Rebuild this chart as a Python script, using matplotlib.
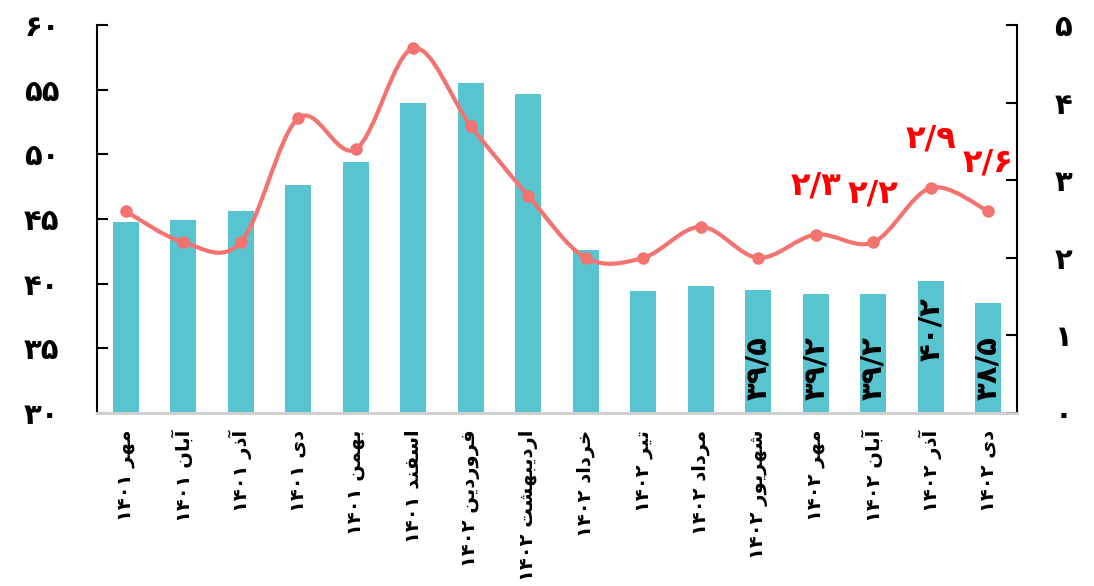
import matplotlib
matplotlib.use("Agg")
import matplotlib.pyplot as plt
from matplotlib.path import Path
from matplotlib.patches import PathPatch

plt.rcParams['font.family'] = ['DejaVu Sans']
plt.rcParams['font.weight'] = 'bold'

months = ["مهر", "آبان", "آذر", "دی", "بهمن", "اسفند", "فروردین", "اردیبهشت",
          "خرداد", "تیر", "مرداد", "شهریور", "مهر", "آبان", "آذر", "دی"]
years = ["۱۴۰۱"] * 6 + ["۱۴۰۲"] * 10
bar_vals = [44.8, 44.9, 45.6, 47.6, 49.4, 54.0, 55.5, 54.7,
            42.6, 39.4, 39.8, 39.5, 39.2, 39.2, 40.2, 38.5]
line_vals = [2.6, 2.2, 2.2, 3.8, 3.4, 4.7, 3.7, 2.8,
             2.0, 2.0, 2.4, 2.0, 2.3, 2.2, 2.9, 2.6]
bar_label_idx = [11, 12, 13, 14, 15]
line_label_idx = [12, 13, 14, 15]

FA_DIGITS = "۰۱۲۳۴۵۶۷۸۹"

# presentation forms: isolated, final, initial, medial (None = no left join)
FORMS = {
    'ا': (0xFE8D, 0xFE8E, None, None), 'آ': (0xFE81, 0xFE82, None, None),
    'ب': (0xFE8F, 0xFE90, 0xFE91, 0xFE92), 'ت': (0xFE95, 0xFE96, 0xFE97, 0xFE98),
    'خ': (0xFEA5, 0xFEA6, 0xFEA7, 0xFEA8), 'د': (0xFEA9, 0xFEAA, None, None),
    'ذ': (0xFEAB, 0xFEAC, None, None), 'ر': (0xFEAD, 0xFEAE, None, None),
    'س': (0xFEB1, 0xFEB2, 0xFEB3, 0xFEB4), 'ش': (0xFEB5, 0xFEB6, 0xFEB7, 0xFEB8),
    'ف': (0xFED1, 0xFED2, 0xFED3, 0xFED4), 'م': (0xFEE1, 0xFEE2, 0xFEE3, 0xFEE4),
    'ن': (0xFEE5, 0xFEE6, 0xFEE7, 0xFEE8), 'ه': (0xFEE9, 0xFEEA, 0xFEEB, 0xFEEC),
    'و': (0xFEED, 0xFEEE, None, None), 'ی': (0xFBFC, 0xFBFD, 0xFBFE, 0xFBFF),
}


def shape(word):
    out = []
    for i, c in enumerate(word):
        prev = word[i - 1] if i > 0 else None
        nxt = word[i + 1] if i + 1 < len(word) else None
        j_prev = prev in FORMS and FORMS[prev][2] is not None
        j_next = FORMS[c][2] is not None and nxt in FORMS
        f = FORMS[c]
        if j_prev and j_next:
            out.append(chr(f[3]))
        elif j_prev:
            out.append(chr(f[1]))
        elif j_next:
            out.append(chr(f[2]))
        else:
            out.append(chr(f[0]))
    return "".join(reversed(out))


def fa_num(v, dec=True):
    s = f"{v:.1f}" if dec else f"{int(v)}"
    s = s.replace(".", "/")
    return "".join(FA_DIGITS[int(ch)] if ch.isdigit() else ch for ch in s)


cat_labels = [y + " " + shape(m) for m, y in zip(months, years)]

bar_color = "#57C4CF"
line_color = "#F2736F"

fig = plt.figure(figsize=(10.94, 5.86), dpi=100)
ax = fig.add_axes([97 / 1094, 1 - 413 / 586, 920 / 1094, 388 / 586])
ax2 = ax.twinx()

x = list(range(len(bar_vals)))
ax.bar(x, [v - 30 for v in bar_vals], bottom=30, width=0.45, color=bar_color, zorder=2)
ax.set_xlim(-0.5, len(x) - 0.5)
ax.set_ylim(30, 60)
ax.set_yticks(range(30, 61, 5))
ax.set_yticklabels([fa_num(t, False) for t in range(30, 61, 5)], fontsize=21, fontweight='bold')
ax.set_xticks(x)
ax.set_xticklabels(cat_labels, rotation=90, fontsize=14, fontweight='bold', va='top')
ax.tick_params(axis='x', length=0, pad=12)
ax.tick_params(axis='y', direction='in', length=8, width=1.5, pad=27)

for i in bar_label_idx:
    y0 = 34.0 if bar_vals[i] > 40 else 31.0
    ax.text(x[i], y0, fa_num(bar_vals[i]), rotation=90, ha='center', va='bottom',
            fontsize=21, fontweight='bold', color='black', zorder=3)

# smoothed line through the monthly points (cubic Bezier segments)
verts = [(x[0], line_vals[0])]
codes = [Path.MOVETO]
n = len(line_vals)
for i in range(n - 1):
    p0 = (x[max(i - 1, 0)], line_vals[max(i - 1, 0)])
    p1 = (x[i], line_vals[i])
    p2 = (x[i + 1], line_vals[i + 1])
    p3 = (x[min(i + 2, n - 1)], line_vals[min(i + 2, n - 1)])
    c1 = (p1[0] + (p2[0] - p0[0]) / 6, p1[1] + (p2[1] - p0[1]) / 6)
    c2 = (p2[0] - (p3[0] - p1[0]) / 6, p2[1] - (p3[1] - p1[1]) / 6)
    verts += [c1, c2, p2]
    codes += [Path.CURVE4] * 3
ax2.add_patch(PathPatch(Path(verts, codes), fill=False, edgecolor=line_color,
                        linewidth=3, zorder=3))
ax2.plot(x, line_vals, 'o', color=line_color, markersize=8, zorder=4)

for i in line_label_idx:
    ax2.annotate(fa_num(line_vals[i]), (x[i], line_vals[i]), xytext=(0, 35),
                 textcoords='offset points', ha='center', va='center',
                 fontsize=23, fontweight='bold', color='#FF0000')

ax2.set_ylim(0, 5)
ax2.set_yticks(range(0, 6))
ax2.set_yticklabels([fa_num(t, False) for t in range(0, 6)], fontsize=21, fontweight='bold')
ax2.tick_params(axis='y', direction='in', length=8, width=1.5, pad=27)

for a in (ax, ax2):
    a.spines['top'].set_visible(False)
    a.spines['left'].set_linewidth(1.5)
    a.spines['right'].set_linewidth(1.5)
    a.spines['bottom'].set_color('#D0D0D0')
    a.spines['bottom'].set_linewidth(2)
ax2.spines['left'].set_visible(False)
ax.spines['right'].set_visible(False)

fig.savefig("out.png", dpi=100)
